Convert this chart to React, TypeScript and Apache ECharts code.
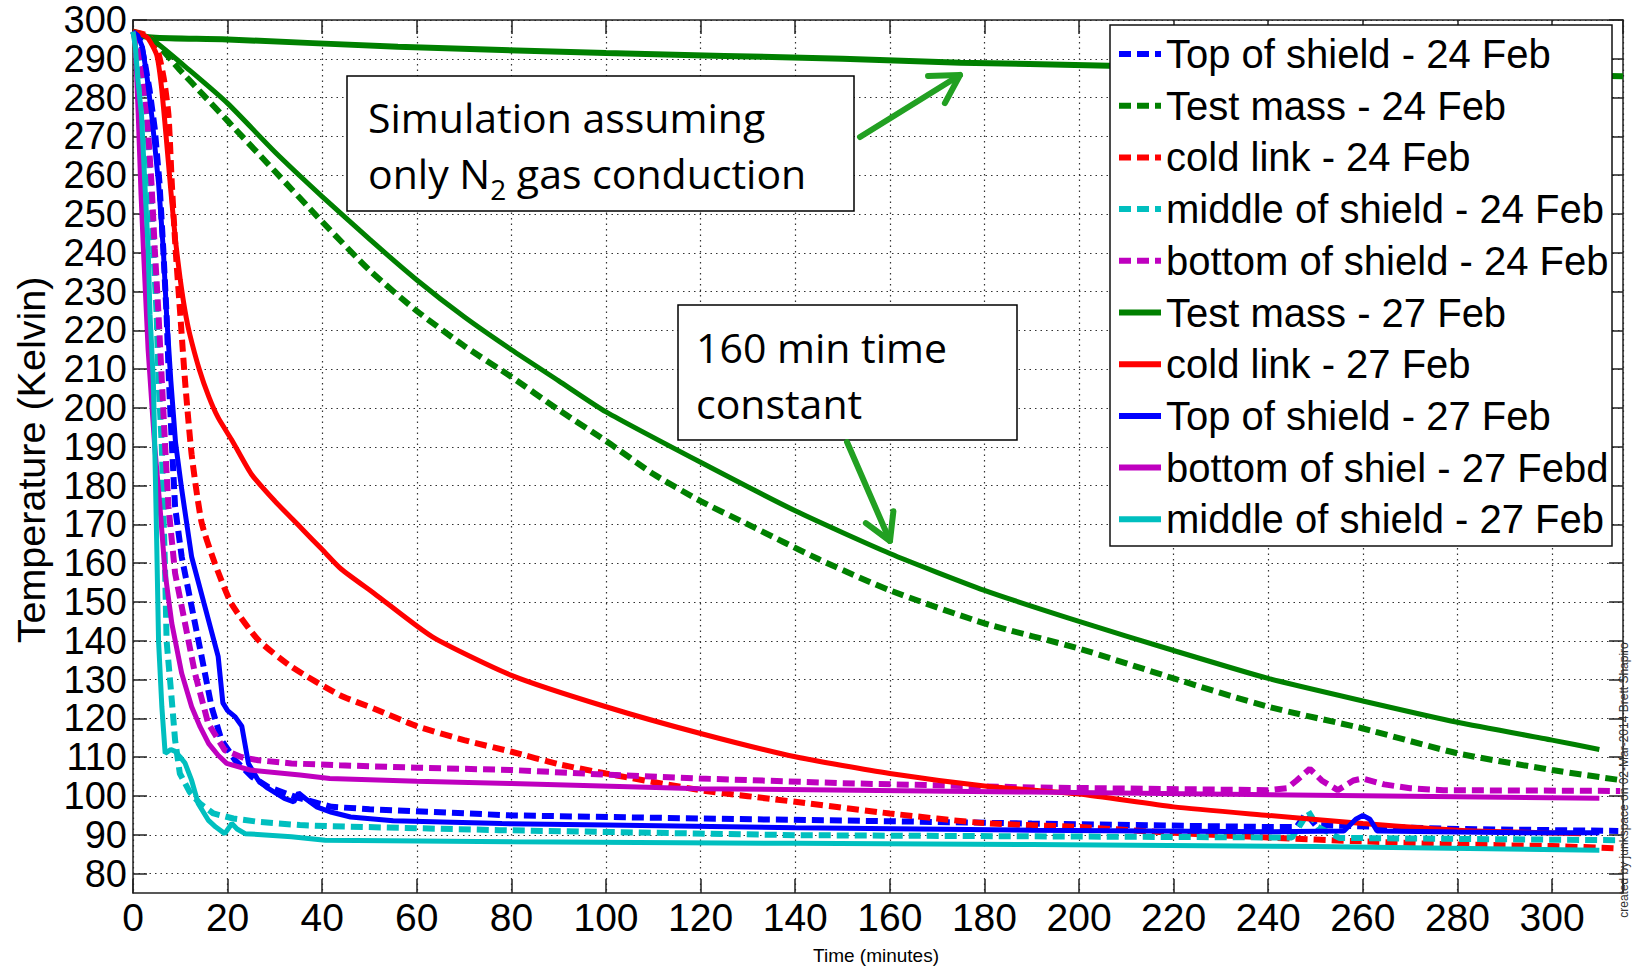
import React, { useEffect, useRef } from 'react';
import * as echarts from 'echarts';

type Pt = [number, number];

// ---- tick labels ----
const xTicks: number[] = [0, 20, 40, 60, 80, 100, 120, 140, 160, 180, 200, 220, 240, 260, 280, 300];
const yTicks: number[] = [80, 90, 100, 110, 120, 130, 140, 150, 160, 170, 180, 190, 200, 210, 220, 230, 240, 250, 260, 270, 280, 290, 300];

// ---- series names ----
const names: string[] = [
  'Top of shield - 24 Feb',
  'Test mass - 24 Feb',
  'cold link - 24 Feb',
  'middle of shield - 24 Feb',
  'bottom of shield - 24 Feb',
  'Test mass - 27 Feb',
  'cold link - 27 Feb',
  'Top of shield - 27 Feb',
  'bottom of shiel - 27 Febd',
  'middle of shield - 27 Feb',
];

// ---- data (time in minutes, temperature in K) ----
const topShield24: Pt[] = [[0,297],[1.5,295],[2.5,289],[3.5,282],[4.6,272],[5.6,258],[6.4,241],[7.1,224],[7.6,207],[8.2,191],[8.9,174.5],[10.3,161.6],[12.4,148.8],[14.5,136],[16.6,123],[18.7,114.4],[21.6,109.2],[25.1,105],[28.6,102.3],[35,99.5],[42,97.2],[50,96.6],[80,95],[120,94.2],[160,93.5],[190,92.9],[240,92],[246,92],[248,95.5],[250,92.5],[280,91.5],[314,91]];
const testMass24: Pt[] = [[0,297],[4,295],[10,287],[15,280.5],[20,274],[30,261],[40,248],[50,235.5],[60,225],[70,216],[80,208],[90,199.5],[100,191.5],[110,183],[120,176],[130,170],[145,161],[160,153],[180,144.5],[200,138],[220,130.3],[240,123],[260,117.4],[280,111],[300,106.7],[315,104]];
const coldLink24: Pt[] = [[0,297],[3,296],[5,293],[6.5,285],[7.5,275.5],[8.2,258],[9,241],[10,224],[11,207],[12.4,188],[14.5,170.5],[17.3,160],[20.8,149.6],[26.5,140.2],[33.5,133.3],[43.7,126],[51,122.5],[60,118],[70,114.4],[80,111.4],[90,108.2],[100,105.8],[120,101.5],[140,98.5],[160,95.5],[180,93],[200,92],[220,90.5],[240,89.3],[260,88.3],[280,87.5],[300,87.1],[314,86.5]];
const midShield24: Pt[] = [[0,297],[1,294],[2,285],[2.9,275.5],[3.6,258],[4.3,241],[5,224],[5.4,207],[6.1,190],[6.4,174.5],[6.8,157.4],[7.1,140],[8.2,124.7],[8.9,114.4],[9.9,105.8],[12,101],[14.2,98],[17,95.5],[21.2,94.2],[26.8,93.3],[35.3,92.5],[42,92.2],[77.5,91.2],[140,89.9],[190,89.6],[245,89.3],[247,93],[248.5,96],[250.5,92],[255,89.2],[314,88.6]];
const botShield24: Pt[] = [[0,297],[1,295],[2,288],[3,275],[3.9,258],[4.6,241],[5.4,224],[6.1,207],[6.8,190],[7.5,174.5],[8.9,157.4],[11,144.5],[13.1,131.6],[15.9,118.7],[19.4,111.8],[23,110],[26.5,109.2],[33.5,108.4],[43.7,107.9],[60,107.3],[80,106.7],[100,105.5],[120,104.5],[150,103.3],[190,102.2],[240,101.5],[244,102],[246,104],[248.8,107],[251.3,104],[254.7,101.5],[258,104],[260,104.5],[264.5,103],[270,102],[277,101.5],[314.4,101.3]];
const testMass27: Pt[] = [[0,297],[4,295],[12,287],[20,278.5],[30,266],[40,254.5],[50,243.5],[60,233],[70,223.5],[80,215],[90,207],[100,199],[120,186],[140,173.5],[160,162.5],[180,153],[200,145],[220,137.5],[240,130.3],[260,124.5],[280,119],[300,114.4],[310,112]];
const coldLink27: Pt[] = [[0,297],[3,295.5],[5,291],[6,283],[7,270],[8,256],[9,243],[10,233],[11,225],[12,219],[14,210],[16,203],[18,197.5],[21,191.5],[25,183],[30,176],[34,171],[36,168.5],[40,163.5],[44,158.5],[51,152.2],[63.3,141],[80,131.1],[100,123],[120,116.1],[140,110.1],[160,105.8],[180,102.6],[200,100.5],[220,97.2],[240,95],[260,92.9],[280,91.2],[306,90.3]];
const topShield27: Pt[] = [[0,297],[1,296],[2,293],[3,285],[4,275],[5.4,258],[6.4,241],[7.1,224],[8,207],[9,191],[10.3,179],[12.4,161.6],[15.2,148.8],[18,136],[19,124],[20,122],[21.6,120.4],[23,118],[24.4,108.4],[26.5,104],[28.5,102],[32,99.4],[34,98.5],[35,100.8],[36.5,99.3],[38.8,97.2],[42,95.8],[46,94.6],[55,93.6],[78,92.9],[100,92.5],[140,91.8],[190,91.2],[240,90.8],[256,91],[258.5,94],[260,95],[261.5,94],[263,91],[280,90.7],[300,90.5],[310,90.5]];
const botShield27: Pt[] = [[0,297],[0.5,294],[1.1,276],[1.7,255],[2.2,241],[3.2,215],[4.6,190],[5.7,174.5],[6.8,157.4],[8.2,144.5],[10.3,131.6],[12.4,123],[14.2,117.8],[16,113.5],[18,110.5],[19.8,108.4],[24.7,106.7],[35.3,105.4],[41.6,104.5],[60,103.8],[80,103.2],[120,101.9],[190,101],[250,100.2],[310,99.4]];
const midShield27: Pt[] = [[0,297],[0.5,293],[1,285],[1.8,275.5],[2.5,258],[3.2,241],[3.6,224],[4.3,207],[4.6,190],[5,166],[5.4,140],[6.1,123],[6.8,111],[8,112],[8.9,111.5],[10,110],[11,108.5],[12.4,104],[13.8,98],[15.9,93.8],[17.5,92],[19.4,90.3],[20.9,92.9],[22,91.5],[23.7,90.3],[33.5,89.5],[40.6,88.6],[80,88.2],[140,87.8],[190,87.5],[250,87],[310,86]];
const simulationN2: Pt[] = [[0,296.5],[4,295.5],[20,295],[56,293.1],[100,291.5],[150,290],[175,289],[204,288.3],[250,287],[280,286.3],[315,285.5]];

const BLUE = '#0000FF';
const GREEN = '#008000';
const RED = '#FF0000';
const CYAN = '#00BFBF';
const MAGENTA = '#BF00BF';
const ARROW = '#22A022';
const FONT = '"Liberation Sans", Arial, Helvetica, sans-serif';
const CAL = '"Open Sans", Lato, sans-serif';

function arrow(x1: number, y1: number, x2: number, y2: number, head: number) {
  const dx = x2 - x1, dy = y2 - y1;
  const len = Math.hypot(dx, dy);
  const ux = dx / len, uy = dy / len;
  const a = Math.PI / 6;
  const r1x = Math.cos(a) * ux - Math.sin(a) * uy, r1y = Math.sin(a) * ux + Math.cos(a) * uy;
  const r2x = Math.cos(-a) * ux - Math.sin(-a) * uy, r2y = Math.sin(-a) * ux + Math.cos(-a) * uy;
  const style = { stroke: ARROW, lineWidth: 6, fill: 'none', lineCap: 'round', lineJoin: 'round' };
  return [
    { type: 'line', z: 120, shape: { x1, y1, x2, y2 }, style },
    { type: 'polyline', z: 120, shape: { points: [[x2 - head * r1x, y2 - head * r1y], [x2, y2], [x2 - head * r2x, y2 - head * r2y]] }, style },
  ];
}

export default function App() {
  const ref = useRef<HTMLDivElement>(null);
  useEffect(() => {
    const chart = echarts.init(ref.current as HTMLDivElement, null, { renderer: 'svg' });
    const dash = [12, 6];
    const defs: [string, Pt[], string, boolean, boolean][] = [
      [names[0], topShield24, BLUE, true, false],
      [names[1], testMass24, GREEN, true, true],
      [names[2], coldLink24, RED, true, true],
      [names[3], midShield24, CYAN, true, false],
      [names[4], botShield24, MAGENTA, true, false],
      [names[5], testMass27, GREEN, false, true],
      [names[6], coldLink27, RED, false, true],
      [names[7], topShield27, BLUE, false, false],
      [names[8], botShield27, MAGENTA, false, false],
      [names[9], midShield27, CYAN, false, false],
    ];
    const series: any[] = [
      {
        name: 'Simulation', type: 'line', data: simulationN2, symbol: 'none', showSymbol: false,
        smooth: 0.3,
        lineStyle: { color: GREEN, width: 6 }, itemStyle: { color: GREEN }, z: 2, silent: true,
      },
    ];
    defs.forEach(([name, data, color, dashed, smooth]) => {
      series.push({
        name, type: 'line', data, symbol: 'none', showSymbol: false, silent: true,
        smooth: smooth ? 0.2 : false,
        lineStyle: { color, width: dashed ? 6 : 5, type: dashed ? dash : 'solid', cap: 'butt' },
        itemStyle: { color },
        z: dashed ? 2 : 3,
      });
    });

    const axisLine = { show: true, onZero: false, lineStyle: { color: '#222', width: 1.5 } };
    const tickStyle = { color: '#222', width: 1.5 };
    const gridStyle = { color: '#333', width: 1.2, type: [1.5, 4] };

    chart.setOption({
      animation: false,
      backgroundColor: '#fff',
      grid: { left: 133, top: 20, width: 1490, height: 873, containLabel: false },
      xAxis: [
        {
          type: 'value', min: 0, max: 315, interval: 20, position: 'bottom',
          axisLine,
          axisTick: { show: true, inside: true, length: 14, lineStyle: tickStyle },
          axisLabel: {
            fontSize: 39, color: '#000', fontFamily: FONT, margin: 5,
            formatter: (v: number) => (xTicks.indexOf(v) >= 0 ? String(v) : ''),
          },
          splitLine: { show: true, lineStyle: gridStyle },
        },
        {
          type: 'value', min: 0, max: 315, interval: 20, position: 'top',
          axisLine,
          axisTick: { show: true, inside: true, length: 14, lineStyle: tickStyle },
          axisLabel: { show: false },
          splitLine: { show: false },
        },
      ],
      yAxis: [
        {
          type: 'value', min: 75, max: 300, position: 'left',
          axisLine,
          axisTick: { show: true, inside: true, length: 14, lineStyle: tickStyle, customValues: yTicks },
          axisLabel: { fontSize: 38, color: '#000', fontFamily: FONT, margin: 6, customValues: yTicks },
          splitLine: { show: true, lineStyle: gridStyle },
        },
        {
          type: 'value', min: 75, max: 300, position: 'right',
          axisLine,
          axisTick: { show: true, inside: true, length: 14, lineStyle: tickStyle, customValues: yTicks },
          axisLabel: { show: false, customValues: yTicks },
          splitLine: { show: false },
        },
      ],
      legend: {
        data: names,
        orient: 'vertical',
        left: 1110,
        top: 25,
        padding: [7, 5, 5, 6],
        itemGap: 7.7,
        itemWidth: 42,
        itemHeight: 2,
        itemStyle: { opacity: 0 },
        lineStyle: { width: 6 },
        textStyle: { fontSize: 40, lineHeight: 44, color: '#000', fontFamily: FONT },
        selectedMode: false,
        z: 10,
      },
      graphic: [
        { type: 'rect', z: 5, shape: { x: 1110, y: 25, width: 502, height: 521 }, style: { fill: '#fff', stroke: '#111', lineWidth: 1.5 } },
        { type: 'rect', z: 110, shape: { x: 347, y: 76, width: 507, height: 135 }, style: { fill: '#fff', stroke: '#000', lineWidth: 1.5 } },
        { type: 'text', z: 111, x: 368, y: 117, style: { text: 'Simulation assuming', fontSize: 41, fontFamily: CAL, fill: '#000', align: 'left', verticalAlign: 'middle' } },
        {
          type: 'text', z: 111, x: 368, y: 173,
          style: {
            text: '{n|only N}{s|2}{n| gas conduction}', align: 'left', verticalAlign: 'middle',
            rich: {
              n: { fontSize: 41, fontFamily: CAL, fill: '#000', lineHeight: 60 },
              s: { fontSize: 28, fontFamily: CAL, fill: '#000', lineHeight: 28, verticalAlign: 'bottom' },
            },
          },
        },
        { type: 'rect', z: 110, shape: { x: 678, y: 305, width: 339, height: 135 }, style: { fill: '#fff', stroke: '#000', lineWidth: 1.5 } },
        { type: 'text', z: 111, x: 696, y: 347, style: { text: '160 min time', fontSize: 41, fontFamily: CAL, fill: '#000', align: 'left', verticalAlign: 'middle' } },
        { type: 'text', z: 111, x: 696, y: 403, style: { text: 'constant', fontSize: 41, fontFamily: CAL, fill: '#000', align: 'left', verticalAlign: 'middle' } },
        ...arrow(860, 137, 960, 75, 32),
        ...arrow(847, 442, 890, 541, 30),
        { type: 'text', z: 111, x: 31, y: 460, rotation: Math.PI / 2, style: { text: 'Temperature (Kelvin)', fontSize: 39.5, fontFamily: FONT, fill: '#000', align: 'center', verticalAlign: 'middle' } },
        { type: 'text', z: 111, x: 876, y: 955, style: { text: 'Time (minutes)', fontSize: 19, fontFamily: FONT, fill: '#000', align: 'center', verticalAlign: 'middle' } },
        { type: 'text', z: 111, x: 1624, y: 780, rotation: Math.PI / 2, style: { text: 'created by junkspace on 02-Mar-2014 Brett Shapiro', fontSize: 12, fontFamily: FONT, fill: '#333', align: 'center', verticalAlign: 'middle' } },
      ],
      series,
    });
    return () => chart.dispose();
  }, []);
  return <div ref={ref} style={{ position: 'absolute', left: 0, top: 0, width: 1632, height: 966, background: '#fff' }} />;
}
